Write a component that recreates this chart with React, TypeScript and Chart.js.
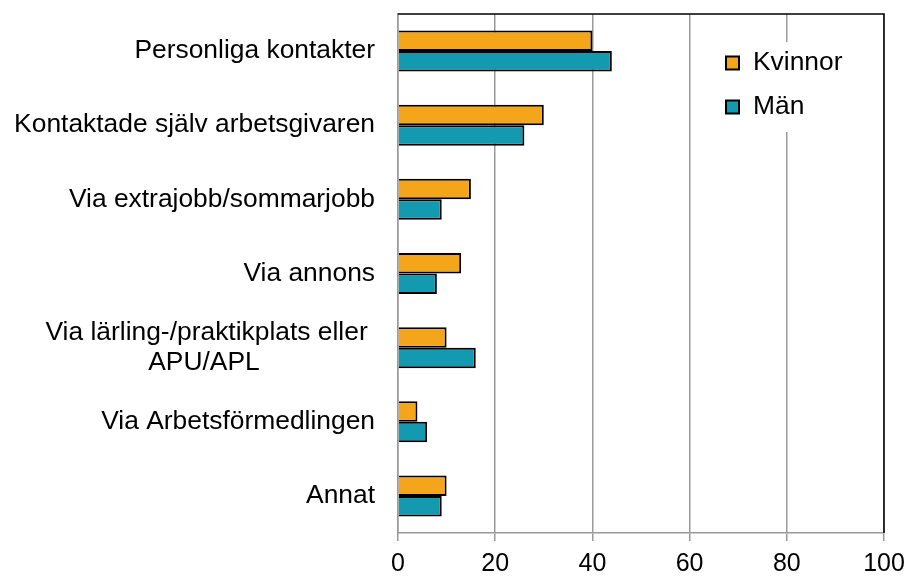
import React, { useEffect, useRef } from "react";
import { Chart, registerables } from "chart.js";

Chart.register(...registerables);

const categories: (string | string[])[] = [
  "Personliga kontakter",
  "Kontaktade själv arbetsgivaren",
  "Via extrajobb/sommarjobb",
  "Via annons",
  ["Via lärling-/praktikplats eller ", "APU/APL               \u2009"],
  "Via Arbetsförmedlingen",
  "Annat",
];
const kvinnor = [40, 30, 15, 13, 10, 4, 10];
const man = [44, 26, 9, 8, 16, 6, 9];
const seriesNames = ["Kvinnor", "Män"];
const seriesColors = ["#F4A51A", "#1399B0"];
const xMin = 0;
const xMax = 100;
const xStep = 20;

const FONT = "'Liberation Sans', Arial, sans-serif";

const framePlugin = {
  id: "frameAndLegend",
  afterDatasetsDraw(chart: any) {
    const { ctx, chartArea: a } = chart;
    ctx.save();
    // top and right border
    ctx.strokeStyle = "#000";
    ctx.lineWidth = 1.5;
    ctx.beginPath();
    ctx.moveTo(a.left, a.top);
    ctx.lineTo(a.right, a.top);
    ctx.lineTo(a.right, a.bottom);
    ctx.stroke();

    // legend inside plot area
    const boxLeft = a.right - 172;
    const boxTop = a.top + 28;
    ctx.fillStyle = "#fff";
    ctx.fillRect(boxLeft, boxTop, 150, 90);
    ctx.font = `26.4px ${FONT}`;
    ctx.textBaseline = "middle";
    ctx.textAlign = "left";
    chart.data.datasets.forEach((ds: any, i: number) => {
      const cy = a.top + 49 + i * 44;
      const sx = boxLeft + 14;
      ctx.fillStyle = ds.backgroundColor;
      ctx.fillRect(sx, cy - 6.5, 13, 13);
      ctx.strokeStyle = "#000";
      ctx.lineWidth = 2;
      ctx.strokeRect(sx, cy - 6.5, 13, 13);
      ctx.fillStyle = "#000";
      ctx.fillText(ds.label, sx + 27, cy);
    });
    ctx.restore();
  },
};

export default function App() {
  const ref = useRef<HTMLCanvasElement>(null);
  useEffect(() => {
    if (!ref.current) return;
    const chart = new Chart(ref.current, {
      type: "bar",
      data: {
        labels: categories,
        datasets: [
          {
            label: seriesNames[0],
            data: kvinnor,
            backgroundColor: seriesColors[0],
            borderColor: "#000",
            borderWidth: 2,
          },
          {
            label: seriesNames[1],
            data: man,
            backgroundColor: seriesColors[1],
            borderColor: "#000",
            borderWidth: 2,
          },
        ],
      },
      options: {
        indexAxis: "y",
        animation: false,
        responsive: false,
        devicePixelRatio: 1,
        datasets: {
          bar: { categoryPercentage: 0.553, barPercentage: 1 },
        },
        layout: { padding: { top: 14, right: 23, left: 0, bottom: 0 } },
        plugins: {
          legend: { display: false },
          tooltip: { enabled: false },
        },
        scales: {
          x: {
            min: xMin,
            max: xMax,
            ticks: {
              stepSize: xStep,
              color: "#000",
              padding: 8,
              font: { family: FONT, size: 25 },
            },
            grid: { color: "#999", lineWidth: 1.5, tickLength: 8, drawTicks: true },
            border: { color: "#999", width: 1.5 },
            afterFit(s: any) {
              s.height = 43;
              s.paddingLeft = 0;
              s.paddingRight = 0;
            },
          },
          y: {
            ticks: {
              color: "#000",
              padding: 23,
              font: { family: FONT, size: 26.4, lineHeight: 1.14 },
            },
            grid: { display: false, drawTicks: false },
            border: { color: "#999", width: 1.5 },
            afterFit(s: any) {
              s.width = 398;
              s.paddingTop = 0;
              s.paddingBottom = 0;
            },
          },
        },
      },
      plugins: [framePlugin],
    });
    return () => chart.destroy();
  }, []);
  return (
    <div style={{ position: "fixed", left: 0, top: 0, width: 907, height: 576, background: "#fff" }}>
      <canvas ref={ref} width={907} height={576} style={{ width: 907, height: 576 }} />
    </div>
  );
}
